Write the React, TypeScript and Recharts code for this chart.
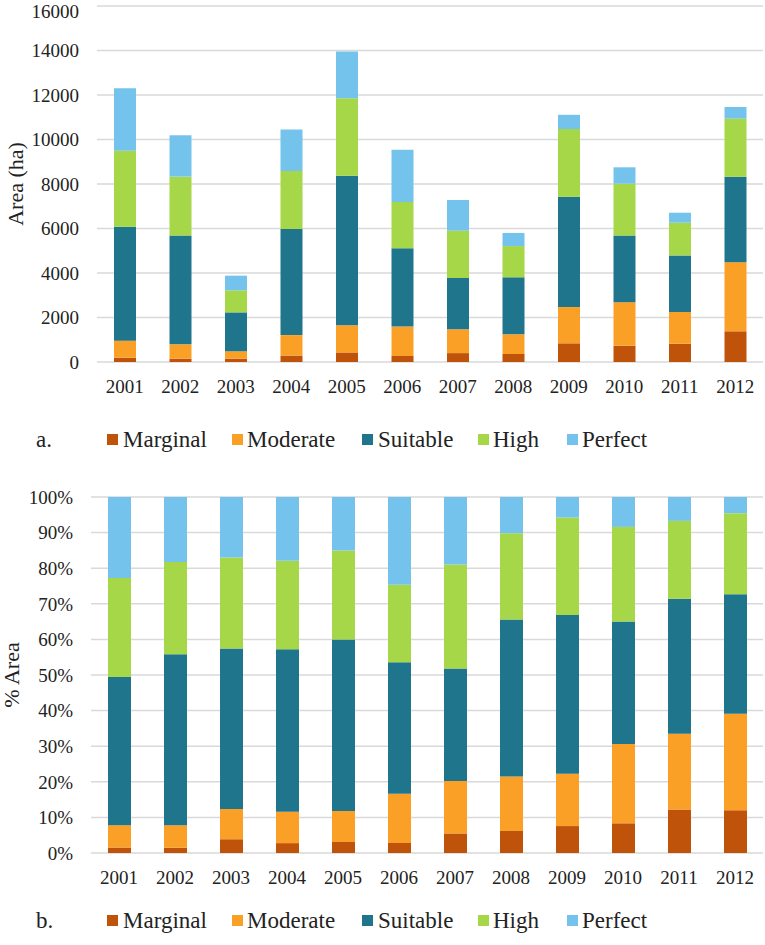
import React from 'react'
import { BarChart, Bar, XAxis, YAxis, CartesianGrid, Label } from 'recharts'

const years = ['2001', '2002', '2003', '2004', '2005', '2006', '2007', '2008', '2009', '2010', '2011', '2012']

// area (ha) per suitability class
const marginal = [190, 150, 150, 290, 430, 270, 400, 360, 840, 730, 820, 1380]
const moderate = [770, 645, 330, 920, 1220, 1320, 1070, 885, 1630, 1950, 1430, 3100]
const suitable = [5120, 4895, 1750, 4770, 6720, 3520, 2305, 2560, 4960, 3010, 2540, 3850]
const high = [3420, 2640, 990, 2600, 3480, 2080, 2125, 1405, 3040, 2325, 1470, 2610]
const perfect = [2800, 1860, 660, 1870, 2100, 2350, 1380, 590, 640, 735, 450, 520]

const areaTicks = [0, 2000, 4000, 6000, 8000, 10000, 12000, 14000, 16000]
const pctTicks = [0, 0.1, 0.2, 0.3, 0.4, 0.5, 0.6, 0.7, 0.8, 0.9, 1]

const SERIES = [
  { key: 'marginal', name: 'Marginal', color: '#c0530a' },
  { key: 'moderate', name: 'Moderate', color: '#fba026' },
  { key: 'suitable', name: 'Suitable', color: '#1f758b' },
  { key: 'high', name: 'High', color: '#a5d748' },
  { key: 'perfect', name: 'Perfect', color: '#74c3ec' },
]

const data = years.map((year, i) => ({
  year,
  marginal: marginal[i],
  moderate: moderate[i],
  suitable: suitable[i],
  high: high[i],
  perfect: perfect[i],
}))

const FONT = "'Liberation Serif', 'DejaVu Serif', 'Noto Serif', Tinos, serif"
const tickStyle = { fontSize: 19, fill: '#222', fontFamily: FONT }
const titleStyle = { fontSize: 22, fill: '#222', fontFamily: FONT }

// legend item positions (left of square, left of text)
const legendPos = [
  [107, 123],
  [232, 247],
  [362, 378],
  [478, 493],
  [567, 582],
]

function PanelLegend({ tag, top }: { tag: string; top: number }) {
  return (
    <div style={{ position: 'absolute', left: 0, top, width: 765, height: 26, fontFamily: FONT, fontSize: 23, color: '#222' }}>
      <span style={{ position: 'absolute', left: 36, top: 0, lineHeight: '26px' }}>{tag}</span>
      {SERIES.map((s, i) => (
        <React.Fragment key={s.key}>
          <span
            style={{
              position: 'absolute',
              left: legendPos[i][0],
              top: 7,
              width: 11,
              height: 11,
              background: s.color,
            }}
          />
          <span style={{ position: 'absolute', left: legendPos[i][1], top: 0, lineHeight: '26px' }}>{s.name}</span>
        </React.Fragment>
      ))}
    </div>
  )
}

export default function App() {
  return (
    <div style={{ position: 'absolute', left: 0, top: 0, width: 765, height: 945, background: '#fff', fontFamily: FONT }}>
      <div style={{ position: 'absolute', left: 0, top: 0 }}>
        <BarChart width={765} height={400} data={data} margin={{ top: 6, right: 2, left: 0, bottom: 0 }}>
          <CartesianGrid vertical={false} stroke="#d9d9d9" strokeWidth={1.5} />
          <XAxis
            dataKey="year"
            height={38}
            tickLine={false}
            axisLine={false}
            tickMargin={12}
            tick={tickStyle}
            interval={0}
          />
          <YAxis
            width={97}
            domain={[0, 16000]}
            ticks={areaTicks}
            tickLine={false}
            axisLine={false}
            tickMargin={12}
            tick={tickStyle}
          >
            <Label value="Area (ha)" angle={-90} position="center" dx={-33} style={titleStyle} />
          </YAxis>
          {SERIES.map((s) => (
            <Bar key={s.key} dataKey={s.key} name={s.name} stackId="a" fill={s.color} barSize={22} isAnimationActive={false} />
          ))}
        </BarChart>
      </div>
      <PanelLegend tag="a." top={427} />
      <div style={{ position: 'absolute', left: 0, top: 480 }}>
        <BarChart width={765} height={411} data={data} stackOffset="expand" margin={{ top: 17, right: 2, left: 0, bottom: 0 }}>
          <CartesianGrid vertical={false} stroke="#d9d9d9" strokeWidth={1.5} />
          <XAxis
            dataKey="year"
            height={38}
            tickLine={false}
            axisLine={false}
            tickMargin={12}
            tick={tickStyle}
            interval={0}
          />
          <YAxis
            width={91}
            domain={[0, 1]}
            ticks={pctTicks}
            tickFormatter={(v: number) => `${Math.round(v * 100)}%`}
            tickLine={false}
            axisLine={false}
            tickMargin={12}
            tick={tickStyle}
          >
            <Label value="% Area" angle={-90} position="center" dx={-34} style={titleStyle} />
          </YAxis>
          {SERIES.map((s) => (
            <Bar key={s.key} dataKey={s.key} name={s.name} stackId="b" fill={s.color} barSize={23} isAnimationActive={false} />
          ))}
        </BarChart>
      </div>
      <PanelLegend tag="b." top={908} />
    </div>
  )
}
